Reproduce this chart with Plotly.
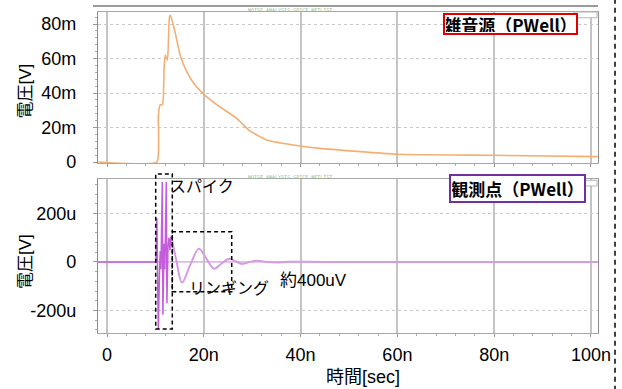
import plotly.graph_objects as go

# --- time axis (ns) and tick labels ---
x_tickvals = [0, 20, 40, 60, 80, 100]
x_ticktext = ["0", "20n", "40n", "60n", "80n", "100n"]

# --- noise source (PWell), mV ---
src_t = [-1.8, 10.3, 10.6, 10.95, 11.5, 11.8, 12.05, 12.5, 12.9, 13.1, 14.05, 15.1,
         16.5, 18.2, 20.2, 23.3, 26.8, 29.5, 33.0, 39.9, 44.0, 59.9, 79.8, 101.4]
src_v = [0, 0, 26.5, 33, 33.5, 55, 62, 59, 84, 85, 75.5, 62,
         52.3, 44.6, 38.8, 32, 25.3, 18.0, 12.8, 9.3, 7.9, 4.5, 3.9, 3.1]
top_tickvals = [0, 20, 40, 60, 80]
top_ticktext = ["0", "20m", "40m", "60m", "80m"]

# --- observation point (PWell), uV: spike part ---
spike_t = [-1.8, 10.1, 10.3, 10.6, 10.85, 11.0, 11.15, 11.42, 11.55, 11.8, 11.95,
           12.25, 12.38, 12.6, 12.8, 13.0, 13.2, 13.4]
spike_v = [0, 0, 180, -278, -40, 45, -30, 330, -218, 75, -30,
           330, -170, 60, 100, 50, 105, 95]
# --- observation point: ringing part ---
ring_t = [13.4, 14.3, 15.5, 17.2, 19.0, 20.6, 22.1, 23.7, 25.3, 26.6, 27.9, 29.5,
          31.1, 33.0, 35.0, 37.5, 45.0, 70.0, 101.4]
ring_v = [95, 10, -85, -12, 54, 12, -28, -6, 13, 2, -8, 0,
          5, 0, -2, 0.5, 0, 0, 0]
bot_tickvals = [-200, 0, 200]
bot_ticktext = ["-200u", "0", "200u"]

NUM_FONT = "Arial, 'Liberation Sans', 'Noto Sans CJK JP', sans-serif"
JP_FONT = "'Noto Sans CJK JP', 'Liberation Sans', sans-serif"

fig = go.Figure()
fig.add_trace(go.Scatter(x=src_t, y=src_v, mode="lines",
                         line=dict(color="#F5AE72", width=1.6, shape="spline", smoothing=0.4),
                         xaxis="x", yaxis="y", hoverinfo="skip"))
fig.add_trace(go.Scatter(x=spike_t, y=spike_v, mode="lines",
                         line=dict(color="#C45CDB", width=1.5),
                         xaxis="x2", yaxis="y2", hoverinfo="skip"))
fig.add_trace(go.Scatter(x=ring_t, y=ring_v, mode="lines",
                         line=dict(color="#D79BE3", width=2, shape="spline", smoothing=1.0),
                         xaxis="x2", yaxis="y2", hoverinfo="skip"))

xcommon = dict(range=[-1.86, 101.45], tickvals=x_tickvals, showgrid=True,
               gridcolor="#C4C4C4", gridwidth=1.5, zeroline=False,
               showline=True, linecolor="#A8A8A8", linewidth=1, mirror=True,
               ticks="outside", ticklen=3, tickcolor="#999",
               minor=dict(dtick=4, ticks="outside", ticklen=2, tickcolor="#AAA", showgrid=False),
               tickfont=dict(family=NUM_FONT, size=18, color="black"))
ycommon = dict(showgrid=True, gridcolor="#C8C8C8", gridwidth=1.3, griddash="dot",
               zeroline=False, showline=True, linecolor="#8C8C8C", linewidth=1.3, mirror=True,
               ticks="outside", ticklen=4, tickcolor="#999", ticklabelstandoff=13,
               tickfont=dict(family=NUM_FONT, size=18, color="black"))

fig.update_layout(
    width=622, height=389,
    margin=dict(l=98, r=24, t=12, b=56),
    paper_bgcolor="white", plot_bgcolor="white",
    showlegend=False,
    xaxis=dict(**xcommon, anchor="y", showticklabels=False),
    yaxis=dict(**ycommon, domain=[0.5296, 1.0], range=[-0.58, 86.96],
               tickvals=top_tickvals, ticktext=top_ticktext,
               minor=dict(dtick=4, ticks="outside", ticklen=2, tickcolor="#AAA", showgrid=False)),
    xaxis2=dict(**xcommon, anchor="y2", ticktext=x_ticktext, ticklabelstandoff=2),
    yaxis2=dict(**ycommon, domain=[0.0, 0.4798], range=[-292.8, 342.0],
                tickvals=bot_tickvals, ticktext=bot_ticktext,
                minor=dict(dtick=40, ticks="outside", ticklen=2, tickcolor="#AAA", showgrid=False)),
)

# baseline of the observed waveform
fig.add_shape(type="line", xref="x2", yref="y2", x0=-1.86, x1=101.45, y0=0, y1=0,
              line=dict(color="#C98BD8", width=1), layer="below")

# window title bar line above the upper panel
fig.add_shape(type="line", xref="paper", yref="paper", x0=-0.01, x1=1.0, y0=1.019, y1=1.019,
              line=dict(color="#7A7A7A", width=1.5))

# tiny simulator headers
for yp in (1.007, 0.487):
    fig.add_annotation(x=0.384, y=yp, xref="paper", yref="paper", showarrow=False,
                       xanchor="center", yanchor="middle",
                       text="NOISE ANALYSIS SPICE NETLIST", font=dict(size=5, color="#94B894",
                       family="'DejaVu Sans Mono', monospace"))

# small legend stubs at the top right of each panel
for y0, y1 in ((0.982, 1.0), (0.458, 0.476)):
    fig.add_shape(type="rect", xref="paper", yref="paper", x0=0.952, x1=0.998, y0=y0, y1=y1,
                  line=dict(color="#B5B5B5", width=1), fillcolor="white")

# dashed highlight boxes: spike and ringing
fig.add_shape(type="rect", xref="paper", yref="paper", x0=0.1154, x1=0.1486, y0=0.0125, y1=0.4953,
              line=dict(color="black", width=1.5, dash="4px,3px"))
fig.add_shape(type="rect", xref="paper", yref="paper", x0=0.1486, x1=0.2674, y0=0.1287, y1=0.3156,
              line=dict(color="black", width=1.5, dash="4px,3px"))

# dashed separator at the right edge
fig.add_shape(type="line", xref="paper", yref="paper", x0=1.034, x1=1.034, y0=-0.18, y1=1.04,
              line=dict(color="black", width=1.5, dash="5px,4px"))

# panel labels
fig.add_annotation(x=0.825, y=0.9626, xref="paper", yref="paper", showarrow=False,
                   xanchor="center", yanchor="middle",
                   text="<b>雑音源（PWell）</b>", font=dict(family=JP_FONT, size=17, color="black"),
                   bgcolor="white", bordercolor="#E00000", borderwidth=2, borderpad=1,
                   width=129, height=16)
fig.add_annotation(x=0.839, y=0.4486, xref="paper", yref="paper", showarrow=False,
                   xanchor="center", yanchor="middle",
                   text="<b>観測点（PWell）</b>", font=dict(family=JP_FONT, size=17, color="black"),
                   bgcolor="white", bordercolor="#7030A0", borderwidth=2, borderpad=1,
                   width=131, height=23)

# callouts
fig.add_annotation(x=0.14, y=0.461, xref="paper", yref="paper", showarrow=False,
                   xanchor="left", yanchor="middle",
                   text="スパイク", font=dict(family=JP_FONT, size=16, color="black"))
fig.add_annotation(x=0.1774, y=0.1442, xref="paper", yref="paper", showarrow=False,
                   xanchor="left", yanchor="middle",
                   text="リンギング", font=dict(family=JP_FONT, size=16, color="black"))
fig.add_annotation(x=0.36, y=0.1651, xref="paper", yref="paper", showarrow=False,
                   xanchor="left", yanchor="middle",
                   text="約400uV", font=dict(family=NUM_FONT, size=17, color="black"))

# axis titles
for yp in (0.7523, 0.2212):
    fig.add_annotation(x=-0.144, y=yp, xref="paper", yref="paper", showarrow=False,
                       xanchor="center", yanchor="middle", textangle=-90,
                       text="電圧[V]", font=dict(family=NUM_FONT, size=17, color="black"))
fig.add_annotation(x=0.53, y=-0.137, xref="paper", yref="paper", showarrow=False,
                   xanchor="center", yanchor="middle",
                   text="時間[sec]", font=dict(family=NUM_FONT, size=18, color="black"))

fig.write_html("out.html")
